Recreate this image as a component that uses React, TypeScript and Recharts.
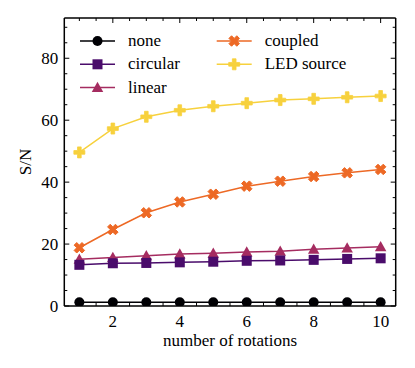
import React from "react";
import { LineChart, Line, XAxis, YAxis, Legend } from "recharts";

// S/N versus number of rotations, one array per configuration
const rotations = [1, 2, 3, 4, 5, 6, 7, 8, 9, 10];
const noneSN = [1.2, 1.2, 1.2, 1.2, 1.2, 1.2, 1.2, 1.2, 1.2, 1.2];
const circularSN = [13.3, 13.8, 13.9, 14.1, 14.3, 14.6, 14.7, 14.9, 15.2, 15.4];
const linearSN = [15.1, 15.7, 16.2, 16.8, 17.0, 17.4, 17.7, 18.3, 18.7, 19.1];
const coupledSN = [18.8, 24.7, 30.1, 33.6, 36.1, 38.7, 40.3, 41.8, 43.0, 44.1];
const ledSN = [49.6, 57.3, 61.1, 63.2, 64.5, 65.5, 66.5, 66.9, 67.4, 67.8];

const xTicks = [1, 1.5, 2, 2.5, 3, 3.5, 4, 4.5, 5, 5.5, 6, 6.5, 7, 7.5, 8, 8.5, 9, 9.5, 10];
const xMajor = [2, 4, 6, 8, 10];
const yTicks = [0, 5, 10, 15, 20, 25, 30, 35, 40, 45, 50, 55, 60, 65, 70, 75, 80, 85, 90];
const yMajor = [0, 20, 40, 60, 80];

const COLORS = {
  none: "#000004",
  circular: "#4a0c6b",
  linear: "#a52c60",
  coupled: "#ed6925",
  led: "#f7d13d",
};

const FONT = "Liberation Serif";
const FS = 17;
const MS = 10; // marker size

const data = rotations.map((r, i) => ({
  r,
  none: noneSN[i],
  circular: circularSN[i],
  linear: linearSN[i],
  coupled: coupledSN[i],
  led: ledSN[i],
}));

type Shape = "circle" | "square" | "triangle" | "x" | "plus";

function Marker({ cx, cy, shape, color }: { cx: number; cy: number; shape: Shape; color: string }) {
  const h = MS / 2;
  if (shape === "circle") return <circle cx={cx} cy={cy} r={h} fill={color} />;
  if (shape === "square")
    return <rect x={cx - h} y={cy - h} width={MS} height={MS} fill={color} />;
  if (shape === "triangle")
    return (
      <polygon
        points={`${cx},${cy - h * 1.15} ${cx - h * 1.15},${cy + h * 0.9} ${cx + h * 1.15},${cy + h * 0.9}`}
        fill={color}
      />
    );
  if (shape === "x") {
    const u = (MS * 1.05) / 4;
    const pts = [
      [-1, -2], [0, -1], [1, -2], [2, -1], [1, 0], [2, 1],
      [1, 2], [0, 1], [-1, 2], [-2, 1], [-1, 0], [-2, -1],
    ];
    return (
      <polygon
        points={pts.map(([a, b]) => `${cx + a * u},${cy + b * u}`).join(" ")}
        fill={color}
        stroke={color}
        strokeWidth={1}
        strokeLinejoin="round"
      />
    );
  }
  const u = (MS * 1.1) / 6;
  const pts = [
    [-1, -3], [1, -3], [1, -1], [3, -1], [3, 1], [1, 1],
    [1, 3], [-1, 3], [-1, 1], [-3, 1], [-3, -1], [-1, -1],
  ];
  return (
    <polygon
      points={pts.map(([a, b]) => `${cx + a * u},${cy + b * u}`).join(" ")}
      fill={color}
      stroke={color}
      strokeWidth={0.8}
    />
  );
}

const dotFor = (shape: Shape, color: string) => (p: any) => (
  <Marker key={`${shape}-${p.index}`} cx={p.cx} cy={p.cy} shape={shape} color={color} />
);

function BottomTick({ x, y, payload }: any) {
  const v = payload.value;
  const major = xMajor.includes(v);
  return (
    <g>
      <line x1={x} x2={x} y1={y} y2={y - (major ? 5 : 3)} stroke="#000" strokeWidth={1} />
      {major && (
        <text x={x} y={y + 21} textAnchor="middle" fontFamily={FONT} fontSize={FS} fill="#000">
          {v}
        </text>
      )}
    </g>
  );
}

function TopTick({ x, y, payload }: any) {
  const major = xMajor.includes(payload.value);
  return <line x1={x} x2={x} y1={y} y2={y + (major ? 5 : 3)} stroke="#000" strokeWidth={1} />;
}

function LeftTick({ x, y, payload }: any) {
  const v = payload.value;
  const major = yMajor.includes(v);
  return (
    <g>
      <line x1={x} x2={x + (major ? 5 : 3)} y1={y} y2={y} stroke="#000" strokeWidth={1} />
      {major && (
        <text x={x - 6} y={y + 6} textAnchor="end" fontFamily={FONT} fontSize={FS} fill="#000">
          {v}
        </text>
      )}
    </g>
  );
}

function RightTick({ x, y, payload }: any) {
  const major = yMajor.includes(payload.value);
  return <line x1={x} x2={x - (major ? 5 : 3)} y1={y} y2={y} stroke="#000" strokeWidth={1} />;
}

const legendItems: { label: string; shape: Shape; color: string; col: number; row: number }[] = [
  { label: "none", shape: "circle", color: COLORS.none, col: 0, row: 0 },
  { label: "circular", shape: "square", color: COLORS.circular, col: 0, row: 1 },
  { label: "linear", shape: "triangle", color: COLORS.linear, col: 0, row: 2 },
  { label: "coupled", shape: "x", color: COLORS.coupled, col: 1, row: 0 },
  { label: "LED source", shape: "plus", color: COLORS.led, col: 1, row: 1 },
];

function LegendBox() {
  const colX = [80, 216.7];
  return (
    <svg width={415} height={110} style={{ display: "block" }}>
      {legendItems.map((it) => {
        const x0 = colX[it.col];
        const y = 41 + it.row * 23.3;
        return (
          <g key={it.label}>
            <line x1={x0} x2={x0 + 35} y1={y} y2={y} stroke={it.color} strokeWidth={1.5} />
            <Marker cx={x0 + 17.5} cy={y} shape={it.shape} color={it.color} />
            <text x={x0 + 48} y={y + 5} fontFamily={FONT} fontSize={FS} fill="#000">
              {it.label}
            </text>
          </g>
        );
      })}
    </svg>
  );
}

export default function App() {
  return (
    <div style={{ width: 415, height: 368, background: "#fff", fontFamily: FONT }}>
      <style>{`body{margin:0}`}</style>
      <LineChart
        width={415}
        height={368}
        data={data}
        margin={{ top: 17, right: 18.3, bottom: 0, left: 4.3 }}
      >
        <XAxis
          dataKey="r"
          type="number"
          domain={[0.55, 10.45]}
          allowDataOverflow
          ticks={xTicks}
          interval={0}
          tickSize={0}
          tickMargin={0}
          height={62}
          axisLine={{ stroke: "#000", strokeWidth: 1.5 }}
          tickLine={false}
          tick={(p: any) => <BottomTick {...p} />}
          label={{
            content: (props: any) => {
              const vb = props.viewBox;
              return (
                <text x={vb.x + vb.width / 2} y={346} textAnchor="middle" fontFamily={FONT} fontSize={FS} fill="#000">
                  number of rotations
                </text>
              );
            },
          }}
        />
        <XAxis
          xAxisId="top"
          orientation="top"
          dataKey="r"
          type="number"
          domain={[0.55, 10.45]}
          allowDataOverflow
          ticks={xTicks}
          interval={0}
          tickSize={0}
          tickMargin={0}
          height={1}
          axisLine={{ stroke: "#000", strokeWidth: 1.5 }}
          tickLine={false}
          tick={(p: any) => <TopTick {...p} />}
        />
        <YAxis
          type="number"
          domain={[0, 93]}
          allowDataOverflow
          ticks={yTicks}
          interval={0}
          tickSize={0}
          tickMargin={0}
          width={60}
          axisLine={{ stroke: "#000", strokeWidth: 1.5 }}
          tickLine={false}
          tick={(p: any) => <LeftTick {...p} />}
          label={{
            content: (props: any) => {
              const vb = props.viewBox;
              const cy = vb.y + vb.height / 2;
              return (
                <text
                  x={25}
                  y={cy}
                  textAnchor="middle"
                  dominantBaseline="central"
                  transform={`rotate(-90, 25, ${cy})`}
                  fontFamily={FONT}
                  fontSize={FS}
                  fill="#000"
                >
                  S/N
                </text>
              );
            },
          }}
        />
        <YAxis
          yAxisId="right"
          orientation="right"
          type="number"
          domain={[0, 93]}
          allowDataOverflow
          ticks={yTicks}
          interval={0}
          tickSize={0}
          tickMargin={0}
          width={1}
          axisLine={{ stroke: "#000", strokeWidth: 1.5 }}
          tickLine={false}
          tick={(p: any) => <RightTick {...p} />}
        />
        <Legend
          layout="vertical"
          align="center"
          verticalAlign="middle"
          wrapperStyle={{ left: 0, top: 0, width: 415, height: 110 }}
          content={() => <LegendBox />}
        />
        <Line dataKey="led" stroke={COLORS.led} strokeWidth={1.5} dot={dotFor("plus", COLORS.led)} activeDot={false} isAnimationActive={false} />
        <Line dataKey="coupled" stroke={COLORS.coupled} strokeWidth={1.5} dot={dotFor("x", COLORS.coupled)} activeDot={false} isAnimationActive={false} />
        <Line dataKey="linear" stroke={COLORS.linear} strokeWidth={1.5} dot={dotFor("triangle", COLORS.linear)} activeDot={false} isAnimationActive={false} />
        <Line dataKey="circular" stroke={COLORS.circular} strokeWidth={1.5} dot={dotFor("square", COLORS.circular)} activeDot={false} isAnimationActive={false} />
        <Line dataKey="none" stroke={COLORS.none} strokeWidth={1.5} dot={dotFor("circle", COLORS.none)} activeDot={false} isAnimationActive={false} />
      </LineChart>
    </div>
  );
}
